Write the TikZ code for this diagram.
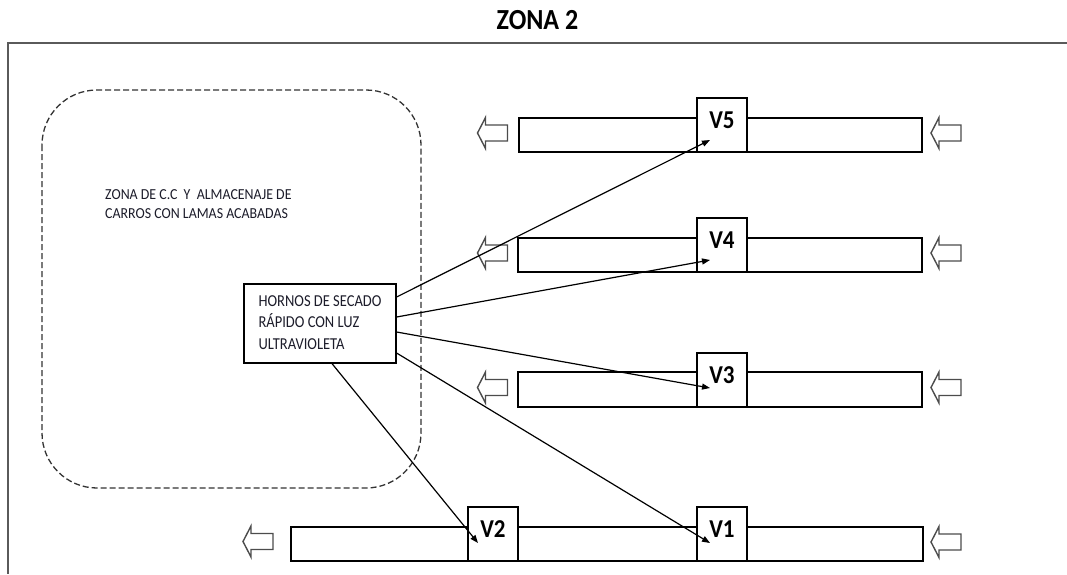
\documentclass[tikz,border=0pt]{standalone}
\usepackage{fontspec}
\usepackage{graphicx}
\setmainfont{Carlito}
\usetikzlibrary{arrows.meta,calc}
\definecolor{zgray}{HTML}{5A5A5A}
\definecolor{zink}{HTML}{1C1C2A}
\newcommand{\tall}[2][1.12]{\scalebox{1}[#1]{#2}}
\newcommand{\lines}[2][1.12]{\tall[#1]{\begin{tabular}{@{}l@{}}#2\end{tabular}}}

\begin{document}
\begin{tikzpicture}[x=1pt,y=-1pt,
  ttl/.style={font=\fontsize{26}{30}\selectfont\bfseries,inner sep=0pt},
  frame/.style={draw=zgray,line width=2pt},
  zone/.style={draw=black!80,line width=1.3pt,dash pattern=on 6pt off 3pt,rounded corners=55pt},
  note/.style={font=\fontsize{13.9}{18}\selectfont,text=zink,inner sep=0pt},
  oven/.style={draw,line width=1.2pt,fill=white,minimum width=152pt,minimum height=79pt,
    inner sep=0pt,font=\fontsize{14.5}{18.7}\selectfont,text=zink},
  bar/.style={draw,line width=1.2pt,fill=white,minimum height=34pt,inner sep=0pt},
  vbox/.style={draw,line width=1.2pt,fill=white,minimum width=50pt,minimum height=54pt,
    inner sep=0pt,text depth=10pt,font=\fontsize{23}{26}\selectfont\bfseries},
  flow/.style={-{Triangle[length=8pt,width=6pt]},line width=1.2pt},
  hollow/.pic={\draw[draw=black!70,line width=1.4pt,line join=miter,fill=white]
    (0,0) -- (8,-15.5) -- (8,-8) -- (30,-8) -- (30,8) -- (8,8) -- (8,15.5) -- cycle;}]
  \useasboundingbox (0,0) rectangle (1067,574);
  \node[ttl] (titulo) at (537.5,20) {\tall{ZONA 2}};
  \draw[frame] (1067,43) -- (8,43) -- (8,574);
  \draw[zone] (42,90) rectangle (421,488);
  \node[note,anchor=west] (zonatxt) at (105,205)
    {\lines[1.1]{ZONA DE C.C\ \ Y\ \ ALMACENAJE DE\\CARROS CON LAMAS ACABADAS}};
  \node[oven] (horno) at (320,323.5)
    {\lines[1.15]{HORNOS DE SECADO\\RÁPIDO CON LUZ\\ULTRAVIOLETA}};
  \node[bar,minimum width=403pt] (b5) at (720.5,135) {};
  \node[bar,minimum width=404pt] (b4) at (720,255) {};
  \node[bar,minimum width=404pt,minimum height=35pt] (b3) at (720,389.5) {};
  \node[bar,minimum width=632pt] (b12) at (607,544) {};
  \node[vbox] (v5) at (722,125) {\tall{V5}};
  \node[vbox] (v4) at (722,245) {\tall{V4}};
  \node[vbox] (v3) at (722,380) {\tall{V3}};
  \node[vbox] (v1) at (722,534) {\tall{V1}};
  \node[vbox] (v2) at (493,534) {\tall{V2}};
  \foreach \y in {133,253,387.5} {
    \pic at (477.5,\y) {hollow};
    \pic at (931,\y) {hollow};
  }
  \pic at (243,541.5) {hollow};
  \pic at (931,542) {hollow};
  \draw[flow] ([yshift=26.5pt]horno.east) -- ($(v5.center)+(-12,15)$);
  \draw[flow] ([yshift=6.5pt]horno.east) -- ($(v4.center)+(-12,15)$);
  \draw[flow] ([yshift=-8.5pt]horno.east) -- ($(v3.center)+(-12,8)$);
  \draw[flow] ([yshift=-29.5pt]horno.east) -- ($(v1.center)+(-12,9)$);
  \draw[flow] ([xshift=12pt]horno.south) -- ($(v2.center)+(-15,9)$);
\end{tikzpicture}
\end{document}
